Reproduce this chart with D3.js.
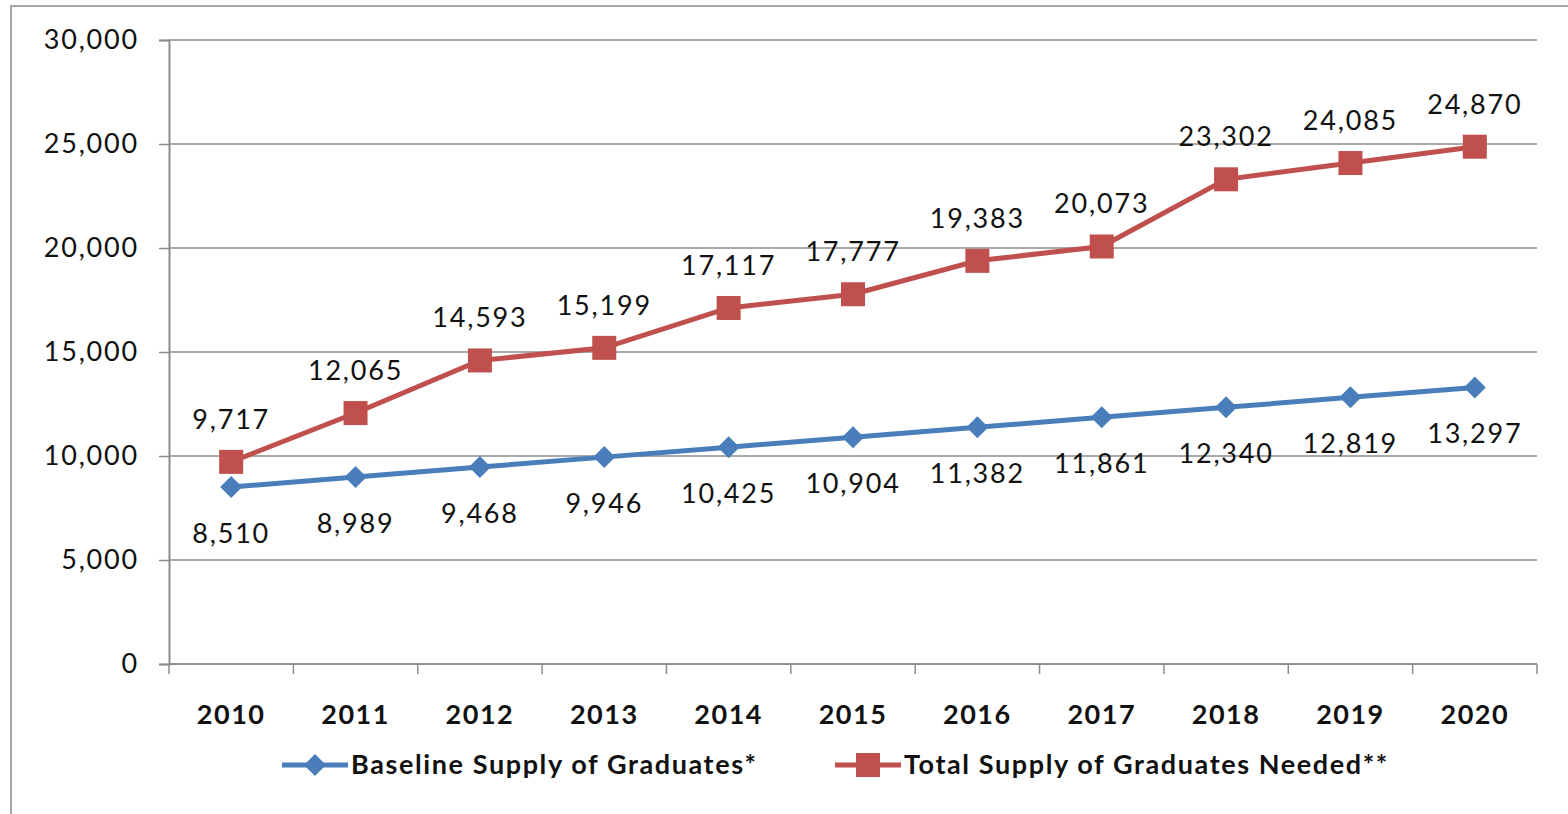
<!DOCTYPE html>
<html>
<head>
<meta charset="utf-8">
<script src="https://cdn.jsdelivr.net/npm/d3@7"></script>
<style>
  body { margin: 0; background: #fff; }
  svg { display: block; font-family: Lato, "Open Sans", sans-serif; }
</style>
</head>
<body>
<svg id="chart"></svg>
<script>
const years = ["2010", "2011", "2012", "2013", "2014", "2015", "2016", "2017", "2018", "2019", "2020"];
const baseline = [8510, 8989, 9468, 9946, 10425, 10904, 11382, 11861, 12340, 12819, 13297];
const needed = [9717, 12065, 14593, 15199, 17117, 17777, 19383, 20073, 23302, 24085, 24870];
const yTicks = [0, 5000, 10000, 15000, 20000, 25000, 30000];
const seriesNames = ["Baseline Supply of Graduates*", "Total Supply of Graduates Needed**"];

const width = 1568, height = 814;
const svg = d3.select("#chart").attr("width", width).attr("height", height);

// outer frame
svg.append("rect")
  .attr("x", 11).attr("y", 6).attr("width", width).attr("height", height)
  .attr("fill", "none").attr("stroke", "#a6a6a6").attr("stroke-width", 2);

const margin = { left: 169, right: 31, top: 40, bottom: 150 };
const x = d3.scaleBand().domain(years).range([margin.left, width - margin.right]);
const y = d3.scaleLinear().domain([0, 30000]).range([height - margin.bottom, margin.top]);

const fmt = d3.format(",");
const blue = "#4a7ebb", red = "#c0504d";
const ink = "#111";

// gridlines
svg.append("g")
  .selectAll("line").data(yTicks.filter(d => d > 0)).join("line")
  .attr("x1", margin.left).attr("x2", width - margin.right)
  .attr("y1", d => y(d)).attr("y2", d => y(d))
  .attr("stroke", "#8c8c8c").attr("stroke-width", 1.5);

// y axis
const yAxis = svg.append("g")
  .attr("transform", `translate(${margin.left},0)`)
  .call(d3.axisLeft(y).tickValues(yTicks).tickFormat(fmt).tickSize(10).tickPadding(20));
yAxis.select(".domain").attr("stroke", "#8c8c8c").attr("stroke-width", 2);
yAxis.selectAll(".tick line").attr("stroke", "#8c8c8c").attr("stroke-width", 1.5);
yAxis.selectAll("text").attr("font-size", 27).attr("fill", ink)
  .attr("font-family", "Lato").attr("letter-spacing", 1.8);

// x axis with boundary ticks
const x0 = y(0);
const xAxis = svg.append("g");
xAxis.append("line")
  .attr("x1", margin.left).attr("x2", width - margin.right)
  .attr("y1", x0).attr("y2", x0)
  .attr("stroke", "#8c8c8c").attr("stroke-width", 2);
const bounds = years.map(d => x(d)).concat([x.range()[1]]);
xAxis.selectAll("line.tk").data(bounds).join("line").attr("class", "tk")
  .attr("x1", d => d).attr("x2", d => d)
  .attr("y1", x0).attr("y2", x0 + 10)
  .attr("stroke", "#8c8c8c").attr("stroke-width", 1.5);
xAxis.selectAll("text").data(years).join("text")
  .attr("x", d => x(d) + x.bandwidth() / 2)
  .attr("y", x0 + 60)
  .attr("text-anchor", "middle")
  .attr("font-size", 27).attr("font-weight", "bold").attr("fill", ink)
  .attr("letter-spacing", 1.5)
  .text(d => d);

const cx = d => x(d) + x.bandwidth() / 2;
const line = d3.line().x((d, i) => cx(years[i])).y(d => y(d));

// baseline series
svg.append("path").datum(baseline)
  .attr("d", line).attr("fill", "none").attr("stroke", blue).attr("stroke-width", 5);
svg.append("g").selectAll("path").data(baseline).join("path")
  .attr("transform", (d, i) => `translate(${cx(years[i])},${y(d)})`)
  .attr("d", "M0,-11L11,0L0,11L-11,0Z").attr("fill", blue);

// needed series
svg.append("path").datum(needed)
  .attr("d", line).attr("fill", "none").attr("stroke", red).attr("stroke-width", 5);
svg.append("g").selectAll("rect").data(needed).join("rect")
  .attr("x", (d, i) => cx(years[i]) - 12).attr("y", d => y(d) - 12)
  .attr("width", 24).attr("height", 24).attr("fill", red);

// data labels
svg.append("g").selectAll("text").data(baseline).join("text")
  .attr("x", (d, i) => cx(years[i])).attr("y", d => y(d) + 56)
  .attr("text-anchor", "middle").attr("font-size", 27).attr("fill", ink)
  .attr("letter-spacing", 1.8)
  .text(d => fmt(d));
svg.append("g").selectAll("text").data(needed).join("text")
  .attr("x", (d, i) => cx(years[i])).attr("y", d => y(d) - 33)
  .attr("text-anchor", "middle").attr("font-size", 27).attr("fill", ink)
  .attr("letter-spacing", 1.8)
  .text(d => fmt(d));

// legend
const legendY = 765;
const legend = svg.append("g");
const items = [
  { name: seriesNames[0], color: blue, x: 282, marker: "diamond" },
  { name: seriesNames[1], color: red, x: 835, marker: "square" }
];
items.forEach(it => {
  const g = legend.append("g").attr("transform", `translate(${it.x},${legendY})`);
  g.append("line").attr("x1", 0).attr("x2", 66).attr("stroke", it.color).attr("stroke-width", 5);
  if (it.marker === "diamond") {
    g.append("path").attr("d", "M33,-11L44,0L33,11L22,0Z").attr("fill", it.color);
  } else {
    g.append("rect").attr("x", 21).attr("y", -12).attr("width", 24).attr("height", 24).attr("fill", it.color);
  }
  g.append("text").attr("x", 69).attr("y", 9)
    .attr("font-size", 27).attr("font-weight", "bold").attr("fill", ink)
    .attr("letter-spacing", 1.6)
    .text(it.name);
});
</script>
</body>
</html>
